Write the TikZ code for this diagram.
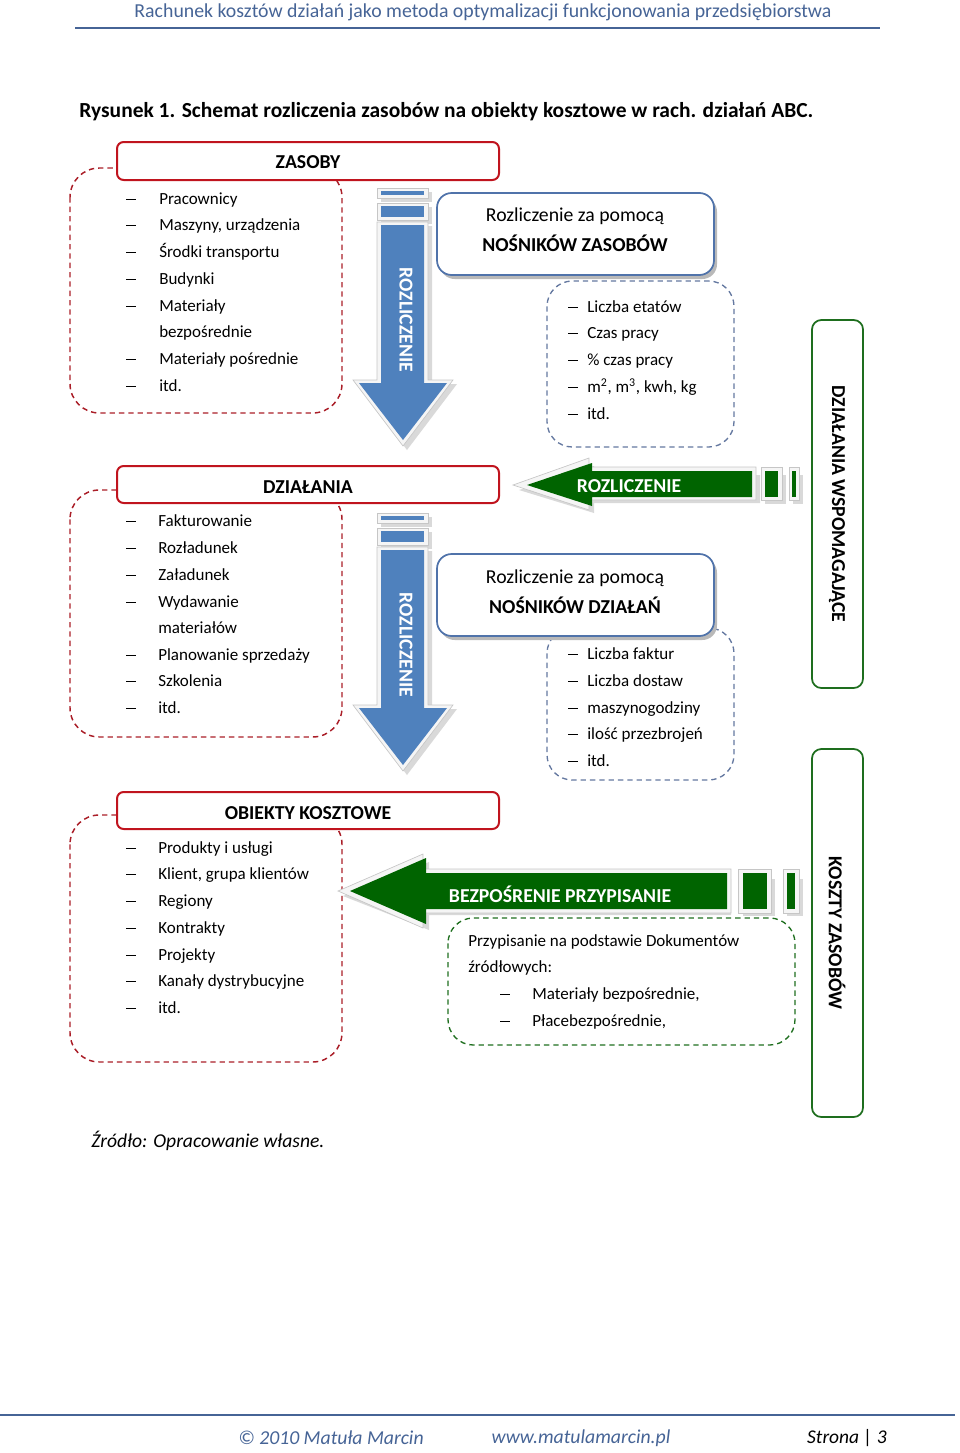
\documentclass[tikz,border=0pt]{standalone}
\usepackage{fontspec}
\setmainfont{Carlito}
\definecolor{hdrblue}{RGB}{70,100,150}
\definecolor{redc}{RGB}{192,20,30}
\definecolor{dred}{RGB}{170,30,40}
\definecolor{bluec}{RGB}{79,129,189}
\definecolor{boxblue}{RGB}{80,115,170}
\definecolor{dblue}{RGB}{100,120,160}
\definecolor{greenc}{RGB}{0,100,0}
\definecolor{dgreen}{RGB}{30,110,30}
\newcommand\setfs[1]{\fontsize{#1}{#1}\selectfont}
\newcommand\dsh{\rule[0.24em]{7.5pt}{0.8pt}}
\begin{document}
\begin{tikzpicture}[x=0.75pt,y=-0.75pt,
  item/.style={anchor=base west,inner sep=0pt,font=\setfs{12.75pt}},
  bul/.style={anchor=base,inner sep=0pt,font=\setfs{12.75pt}},
  hdr/.style={draw=redc,line width=1.5pt,fill=white,rounded corners=5pt},
  hdrtxt/.style={font=\setfs{14.8pt}\bfseries,inner sep=0pt},
  reddash/.style={draw=dred,line width=1.1pt,dash pattern=on 4pt off 3pt,rounded corners=22pt},
  bluedash/.style={draw=dblue,line width=1pt,dash pattern=on 4pt off 3pt,rounded corners=19pt},
  greendash/.style={draw=dgreen,line width=1pt,dash pattern=on 4pt off 3pt,rounded corners=19pt},
  nbox/.style={draw=boxblue,line width=1.3pt,fill=white,rounded corners=11pt},
  nshadow/.style={fill=gray!55,rounded corners=11pt},
  nboxtxt/.style={font=\setfs{14.8pt},inner sep=0pt,align=center},
  vbox/.style={draw=dgreen,line width=1.3pt,fill=white,rounded corners=7pt},
  vtxt/.style={font=\setfs{14.8pt}\bfseries,rotate=-90,inner sep=0pt},
  frame/.style={fill=gray!8,draw=gray!45,line width=0.5pt},
  ashadow/.style={fill=gray!30},
  arrtxt/.style={font=\setfs{14.8pt}\bfseries,text=white,inner sep=0pt}
]
\useasboundingbox (0,0) rectangle (960,1453);

% page header
\node[font=\setfs{14.85pt},text=hdrblue,inner sep=0pt] (head) at (483,12) {Rachunek kosztów działań jako metoda optymalizacji funkcjonowania przedsiębiorstwa};
\draw[hdrblue,line width=1.1pt] (75,28) -- (880,28);
\node[font=\setfs{16.1pt}\bfseries,anchor=west,inner sep=0pt] (title) at (79,112) {Rysunek 1. Schemat rozliczenia zasobów na obiekty kosztowe w rach. działań ABC.};

% ---------- left column: ZASOBY
\draw[reddash] (70,168) rectangle (342,413);
\draw[hdr] (117,142) rectangle (499,180);
\node[hdrtxt] (zasoby) at (308,162) {ZASOBY};
\foreach \t/\y/\b in {Pracownicy/204/1,{Maszyny, urządzenia}/230/1,Środki transportu/257/1,Budynki/284/1,Materiały/311/1,bezpośrednie/337/0,Materiały pośrednie/364/1,itd./391/1}{
  \node[item] at (159,\y) {\t};
  \ifnum\b=1 \node[bul] at (131,\y) {\dsh};\fi
}

% ---------- DZIAŁANIA
\draw[reddash] (70,490) rectangle (342,737);
\draw[hdr] (117,466) rectangle (499,503);
\node[hdrtxt] (dzialania) at (308,487) {DZIAŁANIA};
\foreach \t/\y/\b in {Fakturowanie/526/1,Rozładunek/553/1,Załadunek/580/1,Wydawanie/607/1,materiałów/633/0,Planowanie sprzedaży/660/1,Szkolenia/686/1,itd./713/1}{
  \node[item] at (158,\y) {\t};
  \ifnum\b=1 \node[bul] at (131,\y) {\dsh};\fi
}

% ---------- OBIEKTY KOSZTOWE
\draw[reddash] (70,815) rectangle (342,1062);
\draw[hdr] (117,792) rectangle (499,829);
\node[hdrtxt] (obiekty) at (308,813) {OBIEKTY KOSZTOWE};
\foreach \t/\y in {Produkty i usługi/853,{Klient, grupa klientów}/879,Regiony/906,Kontrakty/933,Projekty/960,Kanały dystrybucyjne/986,itd./1013}{
  \node[item] at (158,\y) {\t};
  \node[bul] at (131,\y) {\dsh};
}

% ---------- blue down arrows
\foreach \dy/\nm in {0/rozA,325/rozB}{
\begin{scope}[shift={(0,\dy)}]
  \fill[ashadow] (381,192) rectangle (432,202);
  \fill[ashadow] (381,207) rectangle (432,224);
  \fill[ashadow] (381,226) -- (432,226) -- (432,384) -- (457,384) -- (407,450) -- (357,384) -- (381,384) -- cycle;
  \draw[frame] (377,188) rectangle (428,198);
  \draw[frame] (377,203) rectangle (428,220);
  \draw[frame] (377,222) -- (428,222) -- (428,380) -- (453,380) -- (403,446) -- (353,380) -- (377,380) -- cycle;
  \fill[bluec] (381,191) rectangle (424,195);
  \fill[bluec] (381,206) rectangle (424,217);
  \fill[bluec] (381,225) -- (424,225) -- (424,383) -- (447,383) -- (403,440) -- (359,383) -- (381,383) -- cycle;
  \node[arrtxt,rotate=-90] (\nm) at (406,320) {ROZLICZENIE};
\end{scope}
}

% ---------- nośniki zasobów
\fill[nshadow] (440,197) rectangle (717,279);
\draw[nbox] (437,193) rectangle (714,275);
\node[nboxtxt] (nz1) at (575,216) {Rozliczenie za pomocą};
\node[nboxtxt,font=\setfs{14.8pt}\bfseries] (nz2) at (575,243) {NOŚNIKÓW ZASOBÓW};
\draw[bluedash] (547,281) rectangle (734,447);
\foreach \t/\y in {Liczba etatów/312,Czas pracy/338,\% czas pracy/365,{m\textsuperscript{2}, m\textsuperscript{3}, kwh, kg}/392,itd./419}{
  \node[item] at (587,\y) {\t};
  \node[bul] at (573,\y) {\dsh};
}

% ---------- green arrow ROZLICZENIE
\fill[ashadow] (519,490) -- (594,466) -- (594,475) -- (760,475) -- (760,503) -- (594,503) -- (594,513) -- cycle;
\fill[ashadow] (765,475) rectangle (786,504);
\fill[ashadow] (793,475) rectangle (803,504);
\draw[frame] (513,485) -- (589,458) -- (589,467) -- (756,467) -- (756,500) -- (589,500) -- (589,510) -- cycle;
\draw[frame] (761,467) rectangle (782,500);
\draw[frame] (789,467) rectangle (799,500);
\fill[greenc] (527,485) -- (592,463) -- (592,471) -- (752,471) -- (752,497) -- (592,497) -- (592,506) -- cycle;
\fill[greenc] (765,471) rectangle (778,497);
\fill[greenc] (792,471) rectangle (796,497);
\node[arrtxt] (rozC) at (629,486) {ROZLICZENIE};

% ---------- nośniki działań
\draw[bluedash] (547,628) rectangle (734,780);
\fill[nshadow] (440,558) rectangle (717,640);
\draw[nbox] (437,554) rectangle (714,636);
\node[nboxtxt] (nd1) at (575,578) {Rozliczenie za pomocą};
\node[nboxtxt,font=\setfs{14.8pt}\bfseries] (nd2) at (575,605) {NOŚNIKÓW DZIAŁAŃ};
\foreach \t/\y in {Liczba faktur/659,Liczba dostaw/686,maszynogodziny/713,ilość przezbrojeń/739,itd./766}{
  \node[item] at (587,\y) {\t};
  \node[bul] at (573,\y) {\dsh};
}

% ---------- right vertical boxes
\draw[vbox] (812,320) rectangle (863,688);
\node[vtxt] (dwsp) at (837,504) {DZIAŁANIA WSPOMAGAJĄCE};
\draw[vbox] (812,749) rectangle (863,1117);
\node[vtxt] (kzas) at (837,933) {KOSZTY ZASOBÓW};

% ---------- green dashed box
\draw[greendash] (448,918) rectangle (795,1045);
\node[item] (p1) at (468,946) {Przypisanie na podstawie Dokumentów};
\node[item] (p2) at (468,972) {źródłowych:};
\node[bul] at (505,999) {\dsh};
\node[item] (p3) at (532,999) {Materiały bezpośrednie,};
\node[bul] at (505,1026) {\dsh};
\node[item] (p4) at (532,1026) {Płacebezpośrednie,};

% ---------- big green arrow
\fill[ashadow] (343,896) -- (429,862) -- (429,879) -- (731,879) -- (731,915) -- (429,915) -- (429,930) -- cycle;
\fill[ashadow] (743,879) rectangle (775,916);
\fill[ashadow] (787,879) rectangle (803,916);
\draw[frame] (338,891) -- (423,854) -- (423,869) -- (731,869) -- (731,913) -- (423,913) -- (423,928) -- cycle;
\draw[frame] (738,869) rectangle (771,913);
\draw[frame] (783,869) rectangle (799,913);
\fill[greenc] (350,891) -- (426,858) -- (426,873) -- (727,873) -- (727,909) -- (426,909) -- (426,924) -- cycle;
\fill[greenc] (743,873) rectangle (767,909);
\fill[greenc] (787,873) rectangle (795,909);
\node[arrtxt] (bezp) at (560,894) {BEZPOŚRENIE PRZYPISANIE};

% ---------- source
\node[anchor=west,inner sep=0pt,font=\setfs{14.7pt}\itshape] (src) at (91,1141) {Źródło: Opracowanie własne.};

% ---------- footer
\draw[hdrblue,line width=1.1pt] (0,1415) -- (955,1415);
\node[font=\setfs{14.8pt}\itshape,text=hdrblue,inner sep=0pt] (f1) at (331,1438) {© 2010 Matuła Marcin};
\node[font=\setfs{14.8pt}\itshape,text=hdrblue,inner sep=0pt] (f2) at (581,1438) {www.matulamarcin.pl};
\node[font=\setfs{14.6pt}\itshape,inner sep=0pt] (f3) at (847,1438) {Strona | 3};
\end{tikzpicture}
\end{document}
